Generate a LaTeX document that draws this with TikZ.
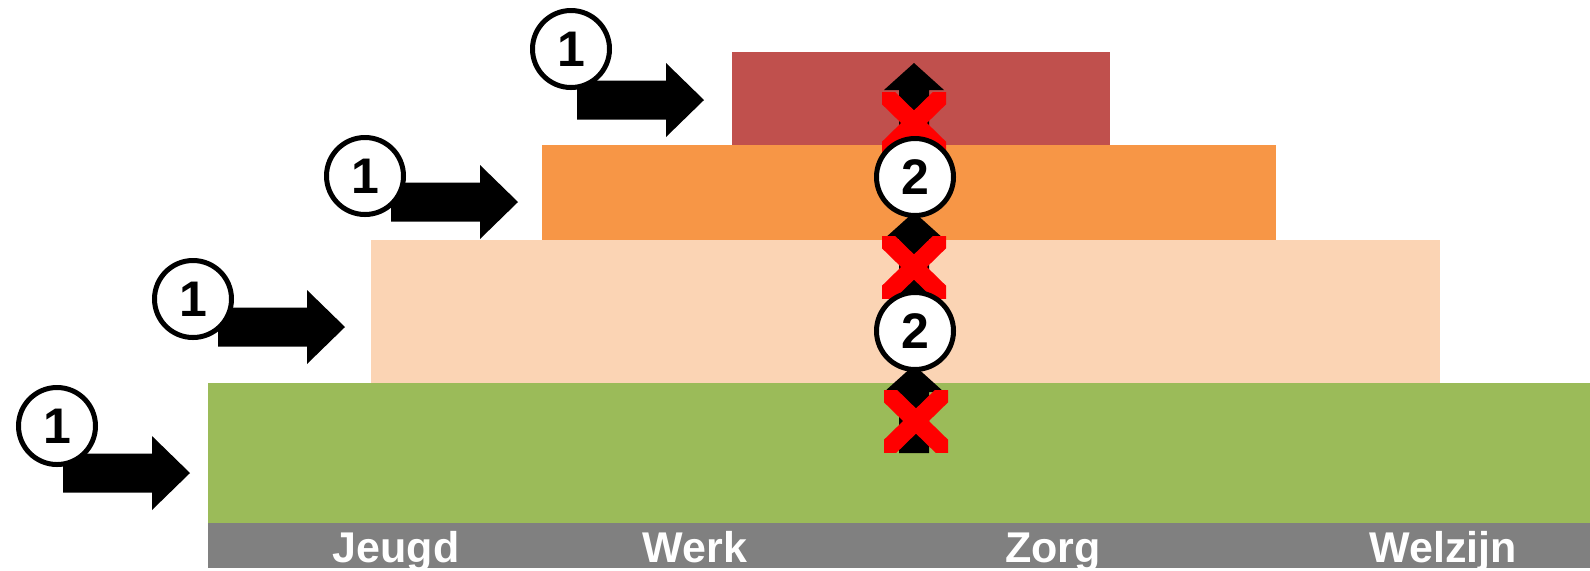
\documentclass[tikz,border=0pt]{standalone}
\usepackage{fontspec}
\setmainfont{Liberation Sans}
\definecolor{lgreen}{HTML}{9BBB59}
\definecolor{lgray}{HTML}{808080}
\definecolor{peach}{HTML}{FBD4B4}
\definecolor{orng}{HTML}{F79646}
\definecolor{rred}{HTML}{C0504D}
\definecolor{xred}{HTML}{FF0000}
\tikzset{
  num/.style={circle,draw=black,line width=2.5pt,fill=white,minimum size=38.5pt,inner sep=0pt,
    font=\fontsize{25}{25}\selectfont\bfseries},
  lab/.style={text=white,font=\fontsize{21.5}{21.5}\selectfont\bfseries,anchor=base,inner sep=0pt},
  rarrow/.pic={\fill[black] (-127,-19.5) -- (-38,-19.5) -- (-38,-37) -- (0,0) -- (-38,37) -- (-38,19.5) -- (-127,19.5) -- cycle;},
  uarrow/.pic={\fill[black] (0,0) -- (30,27) -- (15,27) -- (15,88) -- (-15,88) -- (-15,27) -- (-30,27) -- cycle;},
  xmark/.pic={\begin{scope}
      \clip (-32,-31) rectangle (32,31);
      \draw[xred,line width=9pt] (-44,-43) -- (44,43) (-44,43) -- (44,-43);
    \end{scope}}
}
\begin{document}
\begin{tikzpicture}[x=0.5pt,y=-0.5pt]
\useasboundingbox (0,0) rectangle (1590,570);
% layers
\fill[lgreen] (208,383) rectangle (1590,523);
\fill[lgray] (208,523) rectangle (1590,568);
\fill[peach] (371,240) rectangle (1440,383);
\fill[orng] (542,145) rectangle (1276,240);
\fill[rred] (732,52) rectangle (1110,145);
% left arrows
\pic (ra1) at (704,100) {rarrow};
\pic (ra2) at (518,202) {rarrow};
\pic (ra3) at (345,327) {rarrow};
\pic (ra4) at (190,473) {rarrow};
\node[num] (c1a) at (571,49) {1};
\node[num] (c1b) at (365,176) {1};
\node[num] (c1c) at (193,299) {1};
\node[num] (c1d) at (57,426) {1};
% centre column
\pic (ua1) at (914,63) {uarrow};
\pic (ua2) at (914,212) {uarrow};
\pic (ua3) at (914,365) {uarrow};
\pic (xm1) at (914,123) {xmark};
\pic (xm2) at (914,267) {xmark};
\pic (xm3) at (916,421) {xmark};
\node[num] (c2a) at (915,177) {2};
\node[num] (c2b) at (915,331) {2};
% labels
\node[lab] (jeugd) at (396,562) {Jeugd};
\node[lab] (werk) at (695,562) {Werk};
\node[lab] (zorg) at (1053,562) {Zorg};
\node[lab] (welzijn) at (1443,562) {Welzijn};
\end{tikzpicture}
\end{document}
